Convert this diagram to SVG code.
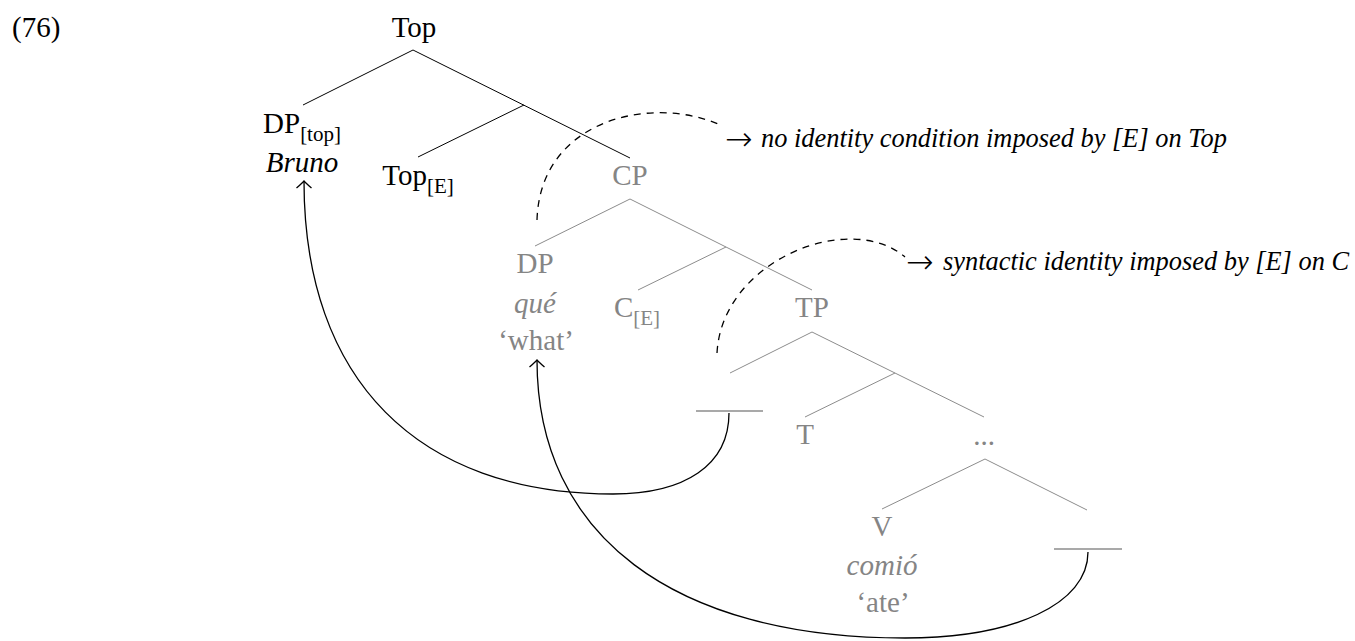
<svg xmlns="http://www.w3.org/2000/svg" width="1355" height="641" viewBox="0 0 1355 641">
<style>
  text{font-family:"Liberation Serif","Times New Roman",serif}
  .t{font-size:29px;fill:#000;text-anchor:middle}
  .g{fill:#858585}
  .i{font-style:italic}
  .s{font-size:21px}
  .ann{font-size:26.4px;fill:#000}
  .arr{font-family:"DejaVu Sans",sans-serif;font-size:33px;font-weight:300}
  .bl{stroke:#000;stroke-width:1;fill:none}
  .gl{stroke:#8c8c8c;stroke-width:1;fill:none}
  .bar{stroke:#8c8c8c;stroke-width:1.3;fill:none}
  .mv{stroke:#000;stroke-width:1.3;fill:none}
  .dash{stroke:#000;stroke-width:1.3;fill:none;stroke-dasharray:7 6}
</style>
<defs>
  <marker id="ah" markerUnits="userSpaceOnUse" viewBox="-10 -10 20 20" markerWidth="20" markerHeight="20" refX="0" refY="0" orient="auto" overflow="visible">
    <path d="M -7 -7.5 Q -2 -1.8 0 0 Q -2 1.8 -7 7.5" fill="none" stroke="#000" stroke-width="1.3"/>
  </marker>
</defs>

<g id="example-number"><text x="12" y="37" style="font-size:29px">(76)</text></g>

<g id="n-top"><text class="t" x="414" y="37">Top</text></g>
<g id="n-dp-top"><text class="t" x="302" y="133">DP<tspan class="s" dy="8">[top]</tspan></text>
  <text class="t i" x="302" y="172">Bruno</text></g>
<g id="n-top-e"><text class="t" x="418" y="185">Top<tspan class="s" dy="8">[E]</tspan></text></g>
<g id="n-cp"><text class="t g" x="630" y="185">CP</text></g>
<g id="n-dp"><text class="t g" x="535" y="273">DP</text>
  <text class="t g i" x="535" y="313">qué</text>
  <text class="t g" x="536" y="350">‘what’</text></g>
<g id="n-c-e"><text class="t g" x="637" y="317">C<tspan class="s" dy="8">[E]</tspan></text></g>
<g id="n-tp"><text class="t g" x="812" y="317">TP</text></g>
<g id="n-gap1"><line class="bar" x1="696" y1="411" x2="763" y2="411"/></g>
<g id="n-t"><text class="t g" x="805" y="444">T</text></g>
<g id="n-dots"><text class="t g" x="984" y="445">...</text></g>
<g id="n-v"><text class="t g" x="882" y="536">V</text>
  <text class="t g i" x="882" y="575">comió</text>
  <text class="t g" x="883" y="612">‘ate’</text></g>
<g id="n-gap2"><line class="bar" x1="1054" y1="549" x2="1122" y2="549"/></g>

<g id="ann-top"><text class="ann"><tspan class="arr" x="725" y="150">→</tspan><tspan class="i" x="761" y="147">no identity condition imposed by [E] on Top</tspan></text></g>
<g id="ann-c"><text class="ann"><tspan class="arr" x="906" y="273">→</tspan><tspan class="i" x="943" y="270">syntactic identity imposed by [E] on C</tspan></text></g>

<g id="connectors">
  <line class="bl" x1="413" y1="50" x2="303" y2="105"/>
  <line class="bl" x1="413" y1="50" x2="630" y2="158"/>
  <line class="bl" x1="524" y1="105" x2="418" y2="157"/>
  <line class="gl" x1="630" y1="199" x2="535" y2="246"/>
  <line class="gl" x1="630" y1="199" x2="812" y2="290"/>
  <line class="gl" x1="726" y1="247" x2="638" y2="290"/>
  <line class="gl" x1="812" y1="332" x2="730" y2="373"/>
  <line class="gl" x1="812" y1="332" x2="984" y2="417"/>
  <line class="gl" x1="895" y1="373" x2="805" y2="417"/>
  <line class="gl" x1="985" y1="459" x2="882" y2="509"/>
  <line class="gl" x1="985" y1="459" x2="1087" y2="510"/>
  <path class="mv" marker-end="url(#ah)" d="M 729 413 C 729 465 685 494 613 494 C 418 494 304 380 304 181"/>
  <path class="mv" marker-end="url(#ah)" d="M 1088 552 C 1088 604 1014 638 905 638 C 673 638 537 535 537 360"/>
  <path class="dash" d="M 537 220 C 540 120 650 95 718 124"/>
  <path class="dash" d="M 717 353 C 722 260 850 210 905 257"/>
</g>
</svg>
